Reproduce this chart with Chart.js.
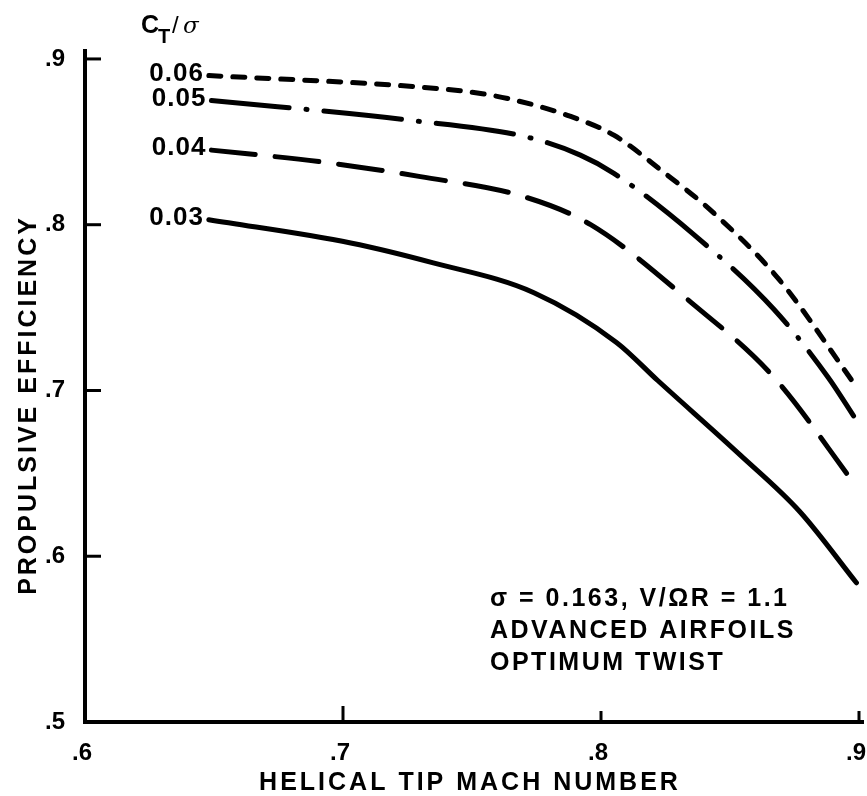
<!DOCTYPE html>
<html>
<head>
<meta charset="utf-8">
<script src="https://cdn.jsdelivr.net/npm/chart.js@4.4.1/dist/chart.umd.min.js"></script>
<style>
  html, body { margin: 0; padding: 0; background: #fff; }
  #wrap { position: relative; width: 867px; height: 796px; }
</style>
</head>
<body>
<div id="wrap"><canvas id="chart" width="867" height="796"></canvas></div>
<script>
// Propulsive efficiency vs helical tip Mach number, one curve per C_T/sigma
const ctLabels = ['0.03', '0.04', '0.05', '0.06'];

const mach03 = [0.648, 0.703, 0.735, 0.774, 0.806, 0.822, 0.854, 0.877, 0.899];
const eff03  = [0.803, 0.789, 0.777, 0.759, 0.729, 0.706, 0.661, 0.627, 0.584];

const mach04 = [0.649, 0.691, 0.730, 0.770, 0.796, 0.835, 0.867, 0.899];
const eff04  = [0.845, 0.838, 0.829, 0.817, 0.800, 0.753, 0.708, 0.642];

const mach05 = [0.649, 0.726, 0.771, 0.792, 0.805, 0.836, 0.867, 0.888, 0.899];
const eff05  = [0.875, 0.863, 0.853, 0.842, 0.831, 0.794, 0.749, 0.708, 0.682];

const mach06 = [0.648, 0.730, 0.754, 0.767, 0.787, 0.805, 0.824, 0.843, 0.869, 0.895, 0.899];
const eff06  = [0.890, 0.883, 0.879, 0.875, 0.866, 0.854, 0.832, 0.808, 0.767, 0.711, 0.702];

const xTicks = [0.6, 0.7, 0.8, 0.9];
const yTicks = [0.5, 0.6, 0.7, 0.8, 0.9];

const notes = ['\u03C3 = 0.163, V/\u03A9R = 1.1', 'ADVANCED AIRFOILS', 'OPTIMUM TWIST'];

const FONT = '"Liberation Sans", Arial, Helvetica, sans-serif';

const toPoints = (xs, ys) => xs.map((x, i) => ({ x, y: ys[i] }));

function series(label, xs, ys, dash) {
  return {
    label,
    data: toPoints(xs, ys),
    borderColor: '#000',
    borderWidth: 5,
    borderDash: dash,
    borderCapStyle: 'round',
    borderJoinStyle: 'round',
    pointRadius: 0,
    cubicInterpolationMode: 'monotone',
    fill: false,
  };
}

const tickLabel = v => '.' + Math.round(v * 10);

// no extra room for the outer tick labels
function noLabelPadding(s) {
  s.paddingLeft = 0;
  s.paddingRight = 0;
  s.paddingTop = 0;
  s.paddingBottom = 0;
}

// axes, inward tick marks and all free text
const decorations = {
  id: 'decorations',
  afterDraw(chart) {
    const { ctx, chartArea: a, scales: { x, y } } = chart;
    ctx.save();
    ctx.strokeStyle = '#000';
    ctx.fillStyle = '#000';
    ctx.lineCap = 'butt';

    // axis lines
    ctx.lineWidth = 4;
    ctx.beginPath();
    ctx.moveTo(a.left, a.top);
    ctx.lineTo(a.left, a.bottom);
    ctx.lineTo(a.right + 5, a.bottom);
    ctx.stroke();

    // tick marks pointing into the plot
    ctx.lineWidth = 3;
    yTicks.slice(1).forEach(v => {
      const py = y.getPixelForValue(v);
      ctx.beginPath();
      ctx.moveTo(a.left, py);
      ctx.lineTo(a.left + 16, py);
      ctx.stroke();
    });
    xTicks.slice(1).forEach((v, i) => {
      const px = x.getPixelForValue(v);
      ctx.beginPath();
      ctx.moveTo(px, a.bottom);
      ctx.lineTo(px, a.bottom - (i === 0 ? 16 : 11));
      ctx.stroke();
    });

    // axis titles
    ctx.font = 'bold 25px ' + FONT;
    ctx.letterSpacing = '3px';
    ctx.textAlign = 'center';
    ctx.textBaseline = 'middle';
    ctx.fillText('HELICAL TIP MACH NUMBER', 470, 783);
    ctx.save();
    ctx.translate(29, 405);
    ctx.rotate(-Math.PI / 2);
    ctx.fillText('PROPULSIVE EFFICIENCY', 0, 0);
    ctx.restore();

    // curve labels at the start of each curve
    ctx.font = 'bold 26px ' + FONT;
    ctx.letterSpacing = '1px';
    ctx.textAlign = 'right';
    chart.data.datasets.forEach(ds => {
      const p0 = ds.data[0];
      ctx.fillText(ds.label, x.getPixelForValue(p0.x) - 5, y.getPixelForValue(p0.y) - 2);
    });

    // C_T/sigma header
    ctx.textAlign = 'left';
    ctx.textBaseline = 'alphabetic';
    ctx.letterSpacing = '0px';
    ctx.font = 'bold 25px ' + FONT;
    ctx.fillText('C', 141, 33);
    ctx.font = 'bold 20px ' + FONT;
    ctx.fillText('T', 158, 43);
    ctx.font = '24px ' + FONT;
    ctx.fillText('/', 172, 33);
    ctx.font = 'italic 23px "DejaVu Serif", serif';
    ctx.fillText('\u03C3', 183, 33);

    // conditions note
    ctx.font = 'bold 25px ' + FONT;
    ctx.letterSpacing = '2.5px';
    notes.forEach((t, i) => ctx.fillText(t, 490, 606 + i * 32));

    ctx.restore();
  }
};

new Chart(document.getElementById('chart'), {
  type: 'line',
  data: {
    datasets: [
      series(ctLabels[0], mach03, eff03, []),
      series(ctLabels[1], mach04, eff04, [44, 20]),
      series(ctLabels[2], mach05, eff05, [78, 17, 1, 17]),
      series(ctLabels[3], mach06, eff06, [12, 12]),
    ]
  },
  plugins: [decorations],
  options: {
    responsive: false,
    animation: false,
    layout: { autoPadding: false, padding: { left: 0, right: 8, top: 49, bottom: 0 } },
    plugins: { legend: { display: false }, tooltip: { enabled: false } },
    scales: {
      x: {
        type: 'linear',
        min: 0.6,
        max: 0.9,
        afterBuildTicks: s => { s.ticks = xTicks.map(value => ({ value })); },
        afterFit: s => { s.height = 74; noLabelPadding(s); },
        grid: { display: false },
        border: { display: false },
        ticks: {
          callback: tickLabel,
          color: '#000',
          padding: 9,
          labelOffset: -3,
          font: { family: FONT, size: 24, weight: 'bold' },
          maxRotation: 0,
        },
      },
      y: {
        min: 0.5,
        max: 0.906,
        afterBuildTicks: s => { s.ticks = yTicks.map(value => ({ value })); },
        afterFit: s => { s.width = 85; noLabelPadding(s); },
        grid: { display: false },
        border: { display: false },
        ticks: {
          callback: tickLabel,
          color: '#000',
          padding: 12,
          font: { family: FONT, size: 24, weight: 'bold' },
        },
      },
    },
  },
});
</script>
</body>
</html>
